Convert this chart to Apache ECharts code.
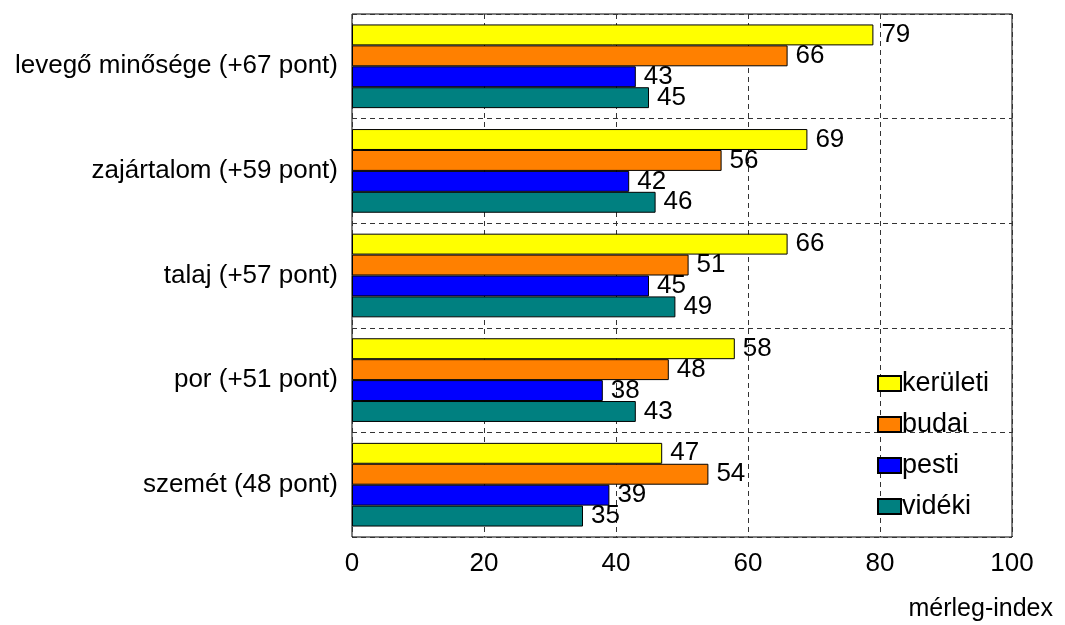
<!DOCTYPE html>
<html>
<head>
<meta charset="utf-8">
<script src="https://cdn.jsdelivr.net/npm/echarts@6/dist/echarts.min.js"></script>
<style>
html,body{margin:0;padding:0;background:#fff;}
#main{width:1065px;height:625px;}
</style>
</head>
<body>
<div id="main"></div>
<script>
const categories = ['levegő minősége (+67 pont)', 'zajártalom (+59 pont)', 'talaj (+57 pont)', 'por (+51 pont)', 'szemét (48 pont)'];
const seriesNames = ['kerületi', 'budai', 'pesti', 'vidéki'];
const keruleti = [79, 69, 66, 58, 47];
const budai = [66, 56, 51, 48, 54];
const pesti = [43, 42, 45, 38, 39];
const videki = [45, 46, 49, 43, 35];
const xTicks = [0, 20, 40, 60, 80, 100];
const colors = ['#FFFF00', '#FF8000', '#0000FF', '#008080'];

const values = [keruleti, budai, pesti, videki];
const font = 'Arial, "Liberation Sans", sans-serif';

const chart = echarts.init(document.getElementById('main'));
chart.setOption({
  animation: false,
  backgroundColor: '#fff',
  textStyle: { fontFamily: font },
  grid: { left: 352, right: 53, top: 14, bottom: 88, show: true, borderColor: '#000', borderWidth: 1, backgroundColor: 'transparent' },
  xAxis: {
    type: 'value', min: xTicks[0], max: xTicks[xTicks.length - 1], interval: 20,
    axisLine: { show: false }, axisTick: { show: false },
    axisLabel: { fontSize: 26, color: '#000', margin: 14, fontFamily: font },
    splitLine: { show: true, lineStyle: { color: '#333', type: [5, 4], width: 1 } }
  },
  yAxis: {
    type: 'category', data: categories, inverse: true,
    axisLine: { show: false }, axisTick: { show: false },
    axisLabel: { fontSize: 26, color: '#000', margin: 14, fontFamily: font },
    splitLine: { show: true, lineStyle: { color: '#333', type: [5, 4], width: 1 } }
  },
  legend: {
    orient: 'vertical', left: 872, top: 365,
    icon: 'rect',
    itemWidth: 23, itemHeight: 15, itemGap: 14,
    textStyle: { fontSize: 27, lineHeight: 26, color: '#000', fontFamily: font, padding: [0, 0, 0, -4] },
    data: seriesNames
  },
  graphic: [{
    type: 'text', right: 12, top: 597,
    style: { text: 'mérleg-index', fontSize: 25, fill: '#000', fontFamily: font }
  }],
  series: seriesNames.map((name, i) => ({
    name: name, type: 'bar', data: values[i],
    barCategoryGap: '20%', barGap: '0%',
    itemStyle: { color: colors[i], borderColor: '#000', borderWidth: 1 },
    label: { show: true, position: 'right', distance: 8, fontSize: 26, color: '#000', fontFamily: font }
  }))
});
</script>
</body>
</html>
